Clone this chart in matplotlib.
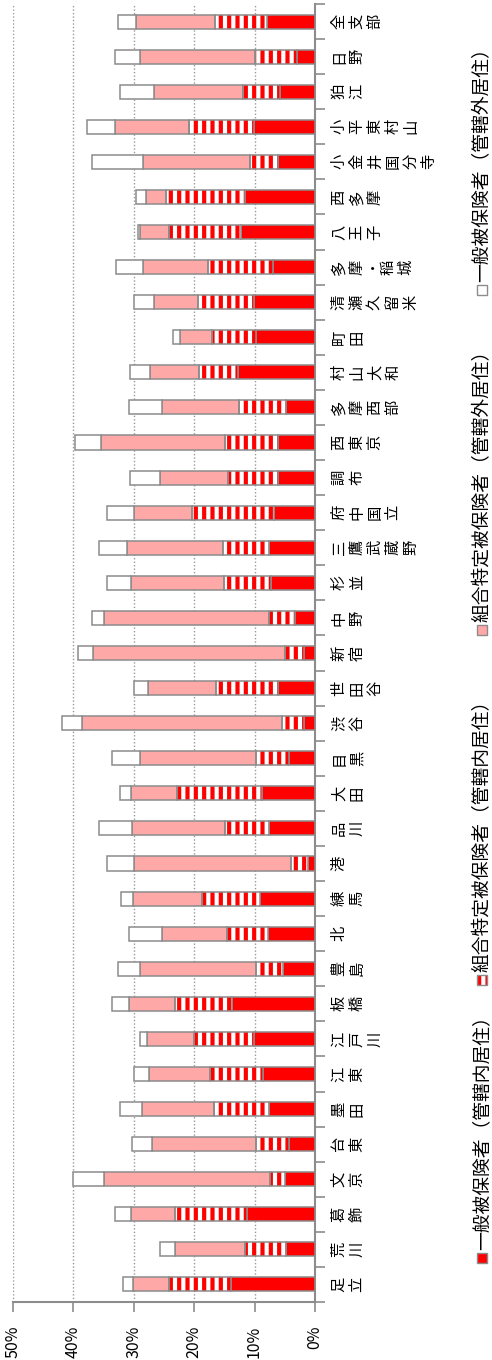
import numpy as np
import matplotlib.pyplot as plt
from matplotlib.patches import Rectangle

plt.rcParams['font.family'] = ['Noto Sans CJK JP', 'DejaVu Sans']
plt.rcParams['hatch.linewidth'] = 3.0

# 支部（下から上の順）
branches = ['足立', '荒川', '葛飾', '文京', '台東', '墨田', '江東', '江戸川', '板橋', '豊島',
            '北', '練馬', '港', '品川', '大田', '目黒', '渋谷', '世田谷', '新宿', '中野',
            '杉並', '三鷹武蔵野', '府中国立', '調布', '西東京', '多摩西部', '村山大和', '町田',
            '清瀬久留米', '多摩・稲城', '八王子', '西多摩', '小金井国分寺', '小平東村山', '狛江',
            '日野', '全支部']

# 一般被保険者（管轄内居住） %
ippan_nai = [13.9, 4.8, 11.3, 5.0, 4.3, 7.6, 8.6, 10.1, 13.7, 5.3,
             7.7, 9.1, 1.1, 7.6, 8.7, 4.3, 1.9, 6.2, 1.8, 3.3,
             7.3, 7.6, 6.8, 6.2, 6.2, 4.8, 12.7, 9.8,
             10.1, 7.0, 12.3, 11.6, 6.2, 10.1, 5.8,
             3.0, 8.0]
# 組合特定被保険者（管轄内居住） %
kumiai_nai = [10.3, 6.8, 11.8, 2.4, 5.4, 9.1, 8.8, 9.9, 9.4, 4.5,
              6.9, 9.6, 2.9, 7.3, 14.1, 5.5, 3.5, 10.2, 3.2, 4.3,
              7.7, 7.6, 13.5, 8.2, 8.7, 7.7, 6.5, 7.2,
              9.2, 10.7, 11.9, 13.0, 4.6, 10.8, 6.1,
              7.0, 8.6]
# 組合特定被保険者（管轄外居住） %
kumiai_gai = [6.0, 11.5, 7.4, 27.5, 17.3, 11.9, 10.1, 7.8, 7.7, 19.2,
              10.7, 11.4, 25.9, 15.4, 7.6, 19.2, 33.2, 11.2, 31.7, 27.3,
              15.5, 15.9, 9.6, 11.3, 20.5, 12.8, 8.1, 5.3,
              7.4, 10.8, 4.8, 3.4, 17.7, 12.2, 14.8,
              19.0, 13.0]
# 一般被保険者（管轄外居住） %
ippan_gai = [1.6, 2.6, 2.6, 5.2, 3.3, 3.7, 2.4, 1.2, 2.8, 3.6,
             5.5, 2.0, 4.5, 5.4, 1.9, 4.6, 3.3, 2.4, 2.5, 2.0,
             3.9, 4.6, 4.5, 4.9, 4.3, 5.5, 3.3, 1.2,
             3.2, 4.4, 0.3, 1.6, 8.4, 4.6, 5.6,
             4.1, 3.0]

legend_labels = ['一般被保険者（管轄内居住）', '組合特定被保険者（管轄内居住）',
                 '組合特定被保険者（管轄外居住）', '一般被保険者（管轄外居住）']
x_ticks = [0, 10, 20, 30, 40, 50]

W, H = 492, 1360
edge = '#8c8c8c'
red = '#ff0000'
pink = '#ffa8a8'

fig = plt.figure(figsize=(W / 100, H / 100), dpi=100)
ax = fig.add_axes([13 / W, 58 / H, 302 / W, 1298 / H])

y = np.arange(len(branches))
h = 0.4
a = np.array(ippan_nai)
b = np.array(kumiai_nai)
c = np.array(kumiai_gai)
d = np.array(ippan_gai)

ax.barh(y, a, height=h, color=red, edgecolor=edge, linewidth=1.1, zorder=3)
ax.barh(y, b, left=a, height=h, color='white', edgecolor=red, hatch='||', linewidth=0, zorder=3)
ax.barh(y, b, left=a, height=h, color='none', edgecolor=edge, linewidth=1.1, zorder=4)
ax.barh(y, c, left=a + b, height=h, color=pink, edgecolor=edge, linewidth=1.1, zorder=3)
ax.barh(y, d, left=a + b + c, height=h, color='white', edgecolor=edge, linewidth=1.1, zorder=3)

ax.set_xlim(50, 0)
ax.set_ylim(-0.5, len(branches) - 0.5)

# 軸
for s in ['top', 'left']:
    ax.spines[s].set_visible(False)
for s in ['bottom', 'right']:
    ax.spines[s].set_color(edge)
    ax.spines[s].set_linewidth(1.5)

ax.set_xticks(x_ticks)
ax.set_xticklabels([f'{t}%' for t in x_ticks], rotation=90, fontsize=11.5)
ax.tick_params(axis='x', length=7, width=1.2, color=edge, pad=10)
ax.xaxis.grid(True, linestyle=(0, (1, 1.5)), color='#999999', linewidth=1.0)
ax.set_axisbelow(True)

ax.yaxis.tick_right()
ax.set_yticks([])
ax.set_yticks(np.arange(-0.5, len(branches), 1), minor=True)
ax.tick_params(axis='y', which='minor', length=7, width=1.2, color=edge)

# 支部名（1文字ずつ90度回転）
trans = ax.get_yaxis_transform()
for i, name in enumerate(branches):
    off = 24
    for j, ch in enumerate(name):
        if ch == '・':
            ax.annotate(ch, xy=(1, i), xycoords=trans,
                        xytext=(off * 0.72, 0), textcoords='offset points',
                        ha='center', va='center_baseline', fontsize=11,
                        annotation_clip=False)
        else:
            ax.annotate(ch, xy=(1, i), xycoords=trans,
                        xytext=(off * 0.72, 0), textcoords='offset points',
                        rotation=90, ha='center', va='center', fontsize=11,
                        annotation_clip=False)
        nxt = name[j + 1] if j + 1 < len(name) else ''
        off += 15.5 if '・' in (ch, nxt) else 18

# 凡例
marker_y = [1258, 980, 630, 290]
lx = 482
for k, (lab, my) in enumerate(zip(legend_labels, marker_y)):
    x0 = (lx - 5) / W
    y0 = 1 - (my + 5) / H
    if k == 0:
        fig.patches.append(Rectangle((x0, y0), 10 / W, 10 / H, transform=fig.transFigure,
                                     facecolor=red, edgecolor=edge, linewidth=1.0))
    elif k == 1:
        fig.patches.append(Rectangle((x0, y0), 10 / W, 10 / H, transform=fig.transFigure,
                                     facecolor='white', edgecolor=red, hatch='||', linewidth=0))
        fig.patches.append(Rectangle((x0, y0), 10 / W, 10 / H, transform=fig.transFigure,
                                     facecolor='none', edgecolor=edge, linewidth=1.0))
    elif k == 2:
        fig.patches.append(Rectangle((x0, y0), 10 / W, 10 / H, transform=fig.transFigure,
                                     facecolor=pink, edgecolor=edge, linewidth=1.0))
    else:
        fig.patches.append(Rectangle((x0, y0), 10 / W, 10 / H, transform=fig.transFigure,
                                     facecolor='white', edgecolor=edge, linewidth=1.0))
    fig.text(lx / W, 1 - (my - 8) / H, lab, rotation=90, ha='center', va='bottom',
             fontsize=13.5)

fig.savefig('out.png', dpi=100)
